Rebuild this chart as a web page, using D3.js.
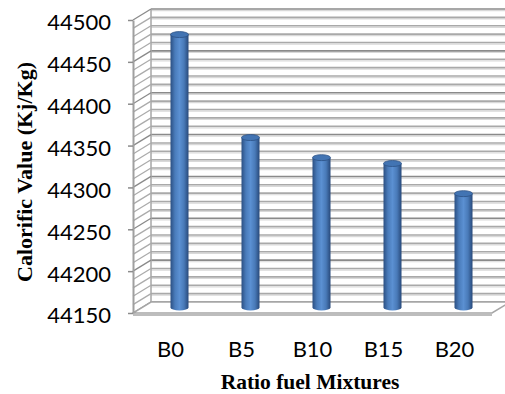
<!DOCTYPE html>
<html>
<head>
<meta charset="utf-8">
<script src="https://cdn.jsdelivr.net/npm/d3@7"></script>
<style>
  body { margin: 0; background: #fff; }
  svg { display: block; }
</style>
</head>
<body>
<div id="chart"></div>
<script>
// data
var categories = ["B0", "B5", "B10", "B15", "B20"];
var values = [44476, 44353, 44329, 44322, 44286];
var tickValues = [44150, 44200, 44250, 44300, 44350, 44400, 44450, 44500];
var gridStep = 10;

var width = 505, height = 394;
var dx = 18, dy = -11; // depth of the 3d box

var svg = d3.select("#chart").append("svg")
    .attr("width", width)
    .attr("height", height);

var y = d3.scaleLinear().domain([44150, 44500]).range([313, 20]);
var x = d3.scaleBand().domain(categories).range([135, 490]);

var gridVals = d3.range(44150, 44500 + 1, gridStep);

var defs = svg.append("defs");
var grad = defs.append("linearGradient").attr("id", "cyl")
    .attr("x1", 0).attr("x2", 1).attr("y1", 0).attr("y2", 0);
[[0, "#2b4f82"], [0.25, "#4a7cbb"], [0.5, "#5b90d2"], [0.75, "#497ab8"], [1, "#28497a"]]
  .forEach(function(s) {
    grad.append("stop").attr("offset", s[0]).attr("stop-color", s[1]);
  });

// back wall
var back = svg.append("g").attr("transform", "translate(" + dx + "," + dy + ")");
back.selectAll(".grid-lo")
    .data(gridVals)
  .enter().append("line")
    .attr("x1", 133).attr("x2", 520)
    .attr("y1", function(d) { return y(d) + 1.6; })
    .attr("y2", function(d) { return y(d) + 1.6; })
    .style("stroke", "#d9d9d9")
    .style("stroke-width", 1.2);
back.selectAll(".grid")
    .data(gridVals)
  .enter().append("line")
    .attr("x1", 133).attr("x2", 520)
    .attr("y1", function(d) { return y(d); })
    .attr("y2", function(d) { return y(d); })
    .style("stroke", function(d) { return (d % 50 == 0) ? "#8a8a8a" : "#a9a9a9"; })
    .style("stroke-width", 1.6);
back.append("line")
    .attr("x1", 133).attr("x2", 133)
    .attr("y1", y(44500)).attr("y2", y(44150))
    .style("stroke", "#a6a6a6").style("stroke-width", 1.5);

// left wall
svg.selectAll(".side")
    .data(gridVals)
  .enter().append("line")
    .attr("x1", 133).attr("x2", 133 + dx)
    .attr("y1", function(d) { return y(d); })
    .attr("y2", function(d) { return y(d) + dy; })
    .style("stroke", function(d) { return (d % 50 == 0) ? "#8a8a8a" : "#ababab"; })
    .style("stroke-width", 1.3);

// floor
var x0 = 133, x1 = 492;
svg.append("path")
    .attr("d", "M" + x0 + "," + y(44150) + "L" + x1 + "," + y(44150) +
               "L" + (x1 + dx) + "," + (y(44150) + dy) + "L" + (x0 + dx) + "," + (y(44150) + dy) + "Z")
    .style("fill", "#fff")
    .style("stroke", "#a6a6a6")
    .style("stroke-width", 1.5);
svg.append("line")
    .attr("x1", x0).attr("x2", x1)
    .attr("y1", y(44150) + 2).attr("y2", y(44150) + 2)
    .style("stroke", "#bdbdbd").style("stroke-width", 2);

// cylinders, sitting half way into the box
var bw = 18, ry = 3;
var bars = svg.append("g").attr("transform", "translate(" + dx / 2 + "," + dy / 2 + ")");
var bar = bars.selectAll(".bar")
    .data(categories)
  .enter().append("g")
    .attr("class", "bar");

bar.append("path")
    .attr("d", function(d, i) {
      var cx = x(d) + x.bandwidth() / 2;
      var top = y(values[i]), bot = y(44150);
      return "M" + (cx - bw / 2) + "," + top + "L" + (cx - bw / 2) + "," + bot +
             "A" + (bw / 2) + "," + ry + " 0 0 0 " + (cx + bw / 2) + "," + bot +
             "L" + (cx + bw / 2) + "," + top + "Z";
    })
    .style("fill", "url(#cyl)");

bar.append("ellipse")
    .attr("cx", function(d) { return x(d) + x.bandwidth() / 2; })
    .attr("cy", function(d, i) { return y(values[i]); })
    .attr("rx", bw / 2)
    .attr("ry", ry)
    .style("fill", "#4274b3")
    .style("stroke", "#2c5285")
    .style("stroke-width", 0.8);

// y axis
var yAxis = d3.axisLeft(y).tickValues(tickValues).tickSize(5).tickSizeOuter(0).tickPadding(17)
    .tickFormat(d3.format("d"));
var ya = svg.append("g").attr("transform", "translate(133,0)").call(yAxis);
ya.select(".domain").style("stroke", "#a0a0a0").style("stroke-width", 2);
ya.selectAll(".tick line").style("stroke", "#8c8c8c").style("stroke-width", 1.5);
ya.selectAll(".tick text")
    .attr("dy", "0.45em")
    .style("font-family", "Lato, 'Open Sans', sans-serif")
    .style("font-size", "22px")
    .style("fill", "#000");

// x axis labels
var xAxis = d3.axisBottom(x).tickSize(0).tickPadding(28);
var xa = svg.append("g").attr("transform", "translate(0," + y(44150) + ")").call(xAxis);
xa.select(".domain").remove();
xa.selectAll(".tick text")
    .style("font-family", "Lato, 'Open Sans', sans-serif")
    .style("font-size", "22px")
    .style("fill", "#000");

// axis titles
svg.append("text")
    .attr("transform", "translate(32,172) rotate(-90)")
    .attr("text-anchor", "middle")
    .style("font-family", "'Liberation Serif', 'Times New Roman', serif")
    .style("font-weight", "bold")
    .style("font-size", "22px")
    .text("Calorific Value (Kj/Kg)");

svg.append("text")
    .attr("x", 310)
    .attr("y", 389)
    .attr("text-anchor", "middle")
    .style("font-family", "'Liberation Serif', 'Times New Roman', serif")
    .style("font-weight", "bold")
    .style("font-size", "21.5px")
    .text("Ratio fuel Mixtures");
</script>
</body>
</html>
